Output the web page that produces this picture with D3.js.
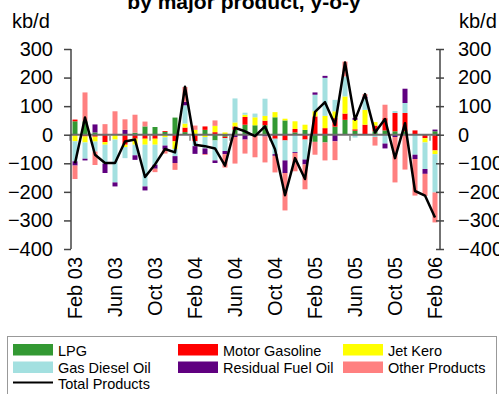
<!DOCTYPE html>
<html>
<head>
<meta charset="utf-8">
<script src="https://cdn.jsdelivr.net/npm/d3@7"></script>
<style>
  html, body { margin: 0; padding: 0; background: #fff; }
  svg { display: block; font-family: "Liberation Sans", Arial, sans-serif; }
</style>
</head>
<body>
<svg id="chart" width="499" height="394"></svg>
<script>
// Monthly year-on-year change in demand, kb/d
const months = ["Feb 03","Mar 03","Apr 03","May 03","Jun 03","Jul 03","Aug 03","Sep 03","Oct 03","Nov 03","Dec 03","Jan 04",
  "Feb 04","Mar 04","Apr 04","May 04","Jun 04","Jul 04","Aug 04","Sep 04","Oct 04","Nov 04","Dec 04","Jan 05",
  "Feb 05","Mar 05","Apr 05","May 05","Jun 05","Jul 05","Aug 05","Sep 05","Oct 05","Nov 05","Dec 05","Jan 06","Feb 06"];
const tickMonths = ["Feb 03","Jun 03","Oct 03","Feb 04","Jun 04","Oct 04","Feb 05","Jun 05","Oct 05","Feb 06"];
const yTicks = [300, 200, 100, 0, -100, -200, -300, -400];

const lpg       = [47,47,8,0,0,0,7,29,27,10,60,9,0,17,-20,-7,17,35,33,33,61,50,8,17,-25,-27,28,52,14,0,12,15,12,12,0,0,12];
const motorGas  = [6,-6,-7,-26,0,-35,-14,-14,-14,3,-23,16,-23,12,9,-5,12,27,0,16,-14,-20,12,-17,64,23,30,22,5,35,20,43,64,64,15,-12,-55];
const jetKero   = [-23,-21,-17,-9,-17,-8,-21,-21,-21,-9,-27,14,17,-8,22,8,14,8,28,17,18,6,27,18,18,43,24,60,33,52,12,0,0,0,0,-15,-13];
const gasDiesel = [-70,-57,-35,-66,-150,-39,-37,-146,-70,-29,-25,64,-17,-40,-70,-45,84,7,13,60,-54,-70,-61,-70,58,133,40,70,-10,40,-8,-31,7,35,-70,-93,-134];
const residual  = [-15,-6,28,-33,-14,17,-16,-14,-14,-14,-24,12,-27,-20,-9,-11,-8,-17,0,-6,-6,-44,-3,-17,8,7,-23,0,7,6,0,-17,-8,50,-15,-17,6];
const other     = [-47,101,-47,37,82,37,63,17,-12,-14,-24,52,15,-3,19,-47,-93,-49,-79,-91,-58,-131,-64,-87,-45,-63,-66,52,0,9,-30,47,-159,-122,-128,-77,-105];
const total     = [-100,60,-70,-99,-99,-24,-17,-148,-104,-50,-62,168,-35,-40,-48,-108,24,12,-5,29,-51,-212,-82,-155,80,114,35,253,52,142,8,55,-82,40,-197,-213,-290];

const seriesNames  = ["LPG","Motor Gasoline","Jet Kero","Gas Diesel Oil","Residual Fuel Oil","Other Products"];
const seriesColors = ["#339933","#ff0000","#ffff00","#a3e0e0","#600080","#ff8080"];
const seriesValues = [lpg, motorGas, jetKero, gasDiesel, residual, other];

const table = months.map((m, i) => {
  const row = { month: m };
  seriesNames.forEach((s, k) => { row[s] = seriesValues[k][i]; });
  return row;
});

const svg = d3.select("#chart");
const plotLeft = 71, plotRight = 440, plotTop = 49, plotBottom = 249;

const x = d3.scaleBand().domain(months).range([70, 440]).paddingInner(0.5).paddingOuter(0.25);
const y = d3.scaleLinear().domain([-400, 300]).range([plotBottom, plotTop]);

// Title (second line of the heading)
svg.append("text").attr("x", 244).attr("y", 9)
  .attr("text-anchor", "middle").attr("font-weight", "bold").attr("font-size", 21)
  .text("by major product, y-o-y");

// Unit labels
svg.append("text").attr("x", 12).attr("y", 28).attr("font-size", 20).text("kb/d");
svg.append("text").attr("x", 459).attr("y", 28).attr("font-size", 20).text("kb/d");

// Stacked bars, positives up and negatives down from zero
const stacked = d3.stack().keys(seriesNames).offset(d3.stackOffsetDiverging)(table);
svg.append("g").selectAll("g").data(stacked).join("g")
  .attr("fill", (d, k) => seriesColors[k])
  .selectAll("rect").data(d => d).join("rect")
  .attr("x", d => x(d.data.month))
  .attr("width", x.bandwidth())
  .attr("y", d => y(Math.max(d[0], d[1])))
  .attr("height", d => Math.abs(y(d[0]) - y(d[1])));

// Zero line with category ticks
svg.append("line").attr("x1", plotLeft).attr("x2", plotRight).attr("y1", y(0)).attr("y2", y(0))
  .attr("stroke", "#6e6e6e").attr("stroke-width", 2);
svg.append("g").selectAll("line").data(tickMonths).join("line")
  .attr("x1", d => x(d) - x.step() * 0.25).attr("x2", d => x(d) - x.step() * 0.25)
  .attr("y1", y(0)).attr("y2", y(0) + 6)
  .attr("stroke", "#888").attr("stroke-width", 1.5);

// Total products line
svg.append("path").datum(total)
  .attr("fill", "none").attr("stroke", "#000").attr("stroke-width", 2.5)
  .attr("stroke-linejoin", "round")
  .attr("d", d3.line().x((d, i) => x(months[i]) + x.bandwidth() / 2).y(d => y(d)));

// Left axis
const yl = svg.append("g").attr("transform", `translate(${plotLeft},0)`)
  .call(d3.axisLeft(y).tickValues(yTicks).tickSize(7).tickPadding(11).tickFormat(d3.format("d")));
yl.selectAll("text").attr("font-size", 20).attr("fill", "#000").attr("font-family", "Liberation Sans, Arial, sans-serif");
yl.selectAll("line, path").attr("stroke", "#444").attr("stroke-width", 1.5);
yl.select(".domain").attr("d", `M0,${plotTop}V${plotBottom}`);

// Right axis (ticks cross the axis line)
const yr = svg.append("g").attr("transform", `translate(${plotRight},0)`)
  .call(d3.axisRight(y).tickValues(yTicks).tickSize(4).tickPadding(14).tickFormat(d3.format("d")));
yr.selectAll(".tick line").attr("x1", -4);
yr.selectAll("text").attr("font-size", 20).attr("fill", "#000").attr("font-family", "Liberation Sans, Arial, sans-serif");
yr.selectAll("line, path").attr("stroke", "#444").attr("stroke-width", 1.5);
yr.select(".domain").attr("d", `M0,${plotTop}V${plotBottom}`);

// Month labels, rotated
svg.append("g").selectAll("text").data(tickMonths).join("text")
  .attr("transform", d => `translate(${x(d) + x.bandwidth() / 2},257) rotate(-90)`)
  .attr("text-anchor", "end").attr("dy", "0.35em").attr("font-size", 20)
  .text(d => d);

// Legend
const lg = svg.append("g");
lg.append("rect").attr("x", 7.5).attr("y", 336.5).attr("width", 489).attr("height", 70)
  .attr("fill", "none").attr("stroke", "#999").attr("stroke-width", 1);
const legendPos = [[13, 344], [178, 344], [343, 344], [13, 361.5], [178, 361.5], [343, 361.5]];
seriesNames.forEach((s, k) => {
  const [lx, ly] = legendPos[k];
  lg.append("rect").attr("x", lx).attr("y", ly).attr("width", 40).attr("height", 11.5).attr("fill", seriesColors[k]);
  lg.append("text").attr("x", lx + 45).attr("y", ly + 11.5).attr("font-size", 14.5).text(s);
});
lg.append("line").attr("x1", 13).attr("x2", 53).attr("y1", 382.5).attr("y2", 382.5).attr("stroke", "#000").attr("stroke-width", 2);
lg.append("text").attr("x", 58).attr("y", 389).attr("font-size", 14.5).text("Total Products");
</script>
</body>
</html>
